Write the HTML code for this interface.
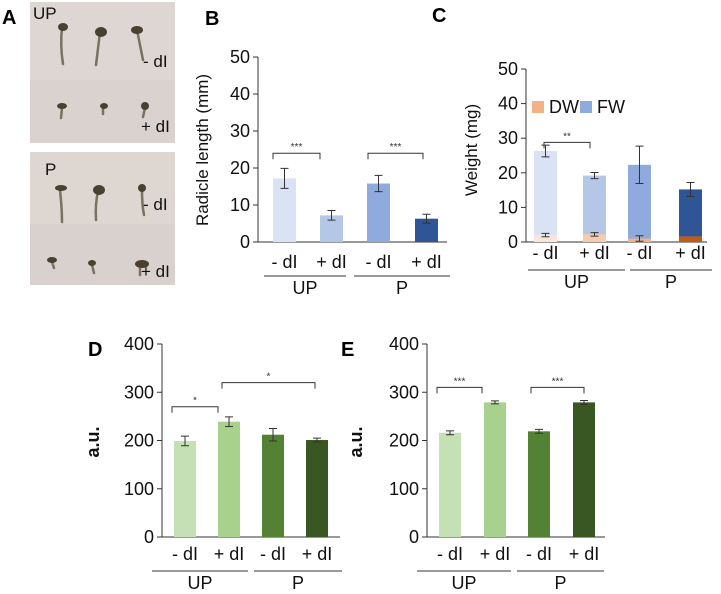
<!DOCTYPE html>
<html><head><meta charset="utf-8"><style>
body{margin:0;background:#fff;width:721px;height:594px;overflow:hidden;font-family:"Liberation Sans",sans-serif}
svg{position:absolute;left:0;top:0}
text{font-family:"Liberation Sans",sans-serif}
</style></head><body>
<svg id="s" width="721" height="594">
<g>
<rect x="30" y="2" width="145" height="78" fill="#ddd6d2"/>
<rect x="30" y="80" width="145" height="63" fill="#d9d2ce"/>
<rect x="30" y="152" width="145" height="72" fill="#ddd6d1"/>
<rect x="30" y="224" width="145" height="61" fill="#d9d1cd"/>
<g stroke="#7a715e" stroke-width="2.5" fill="none" stroke-linecap="round">
<path d="M62 28 Q60 45 63 64"/><path d="M100 32 Q98 48 96 65"/><path d="M137 30 Q140 45 143 60"/>
<path d="M62 108 L61 118"/><path d="M103 108 L103 114"/><path d="M145 108 L143 117"/>
<path d="M60 190 Q62 208 62 222"/><path d="M98 191 Q95 205 96 220"/><path d="M142 190 Q142 205 144 215"/>
<path d="M52 262 L54 268"/><path d="M92 265 L94 273"/><path d="M140 264 L140 275"/>
</g>
<g fill="#4a4030">
<ellipse cx="63" cy="27" rx="5" ry="4"/><ellipse cx="101" cy="32" rx="6" ry="5"/><ellipse cx="137" cy="30" rx="6" ry="4"/>
<ellipse cx="62" cy="106" rx="5" ry="3"/><ellipse cx="104" cy="106" rx="4" ry="3"/><ellipse cx="145" cy="106" rx="4" ry="4"/>
<ellipse cx="61" cy="188" rx="6" ry="3"/><ellipse cx="99" cy="190" rx="6" ry="5"/><ellipse cx="142" cy="188" rx="4" ry="4"/>
<ellipse cx="52" cy="260" rx="5" ry="3"/><ellipse cx="92" cy="263" rx="4" ry="3"/><ellipse cx="142" cy="264" rx="7" ry="4"/>
</g>
<g font-size="17" fill="#111">
<text x="33" y="19">UP</text><text x="143" y="67">- dI</text><text x="141" y="132">+ dI</text>
<text x="45" y="175">P</text><text x="143" y="210">- dI</text><text x="141" y="277">+ dI</text>
</g>
</g>
<g font-weight="bold" font-size="20" fill="#000">
<text x="2" y="24">A</text><text x="205" y="25">B</text><text x="432" y="22">C</text><text x="88" y="356">D</text><text x="341" y="356">E</text>
</g>
</svg>
<script>
// Panel B data
const bCats=["- dI","+ dI","- dI","+ dI"];
const bVals=[17.2,7.2,15.8,6.3];
const bErr=[2.7,1.3,2.2,1.2];
const bTicks=[0,10,20,30,40,50];
// Panel C data
const cFW=[26.3,19.2,22.3,15.2];
const cFWErr=[1.7,0.9,5.4,2.0];
const cDW=[2.0,2.2,1.0,1.6];
const cDWErr=[0.5,0.5,0.8,0];
const cTicks=[0,10,20,30,40,50];
// Panel D data
const dVals=[199,239,212,201];
const dErr=[10,10,13,4];
// Panel E data
const eVals=[216,279,219,279];
const eErr=[4,3,4,4];
const deTicks=[0,100,200,300,400];
const groups=["UP","P"];

const S=document.getElementById('s');const NS='http://www.w3.org/2000/svg';
function el(t,a,p){const e=document.createElementNS(NS,t);for(const k in a)e.setAttribute(k,a[k]);(p||S).appendChild(e);return e;}
function txt(x,y,s,a,p){const e=el('text',Object.assign({x:x,y:y},a),p);e.textContent=s;return e;}

function panel(cfg){
  const g=el('g',{});
  
  
  const ys=v=>cfg.y0-(v-0)/(cfg.max)*(cfg.y0-cfg.yTop);
  const xs=i=>cfg.bx[i];
  el('line',{x1:cfg.ax,y1:cfg.yTop,x2:cfg.ax,y2:cfg.y0,stroke:'#333','stroke-width':1},g);
  el('line',{x1:cfg.ax-4,y1:cfg.y0,x2:cfg.axEnd,y2:cfg.y0,stroke:'#333','stroke-width':1},g);
  cfg.ticks.forEach(t=>{
    const y=ys(t);
    const tl=el('line',{x1:cfg.ax-5,y1:y,x2:cfg.ax,y2:y,stroke:'#333'},g);
    
    
    const lb=txt(cfg.ax-8,y+6,String(t),{'font-size':18,'text-anchor':'end',fill:'#111'},g);
    
    
  });
  const yt=txt(0,0,cfg.ytitle,{'font-size':cfg.ytSize||17,'text-anchor':'middle',fill:'#111','font-weight':cfg.ytBold?'bold':'normal',transform:`translate(${cfg.ytx},${cfg.yty}) rotate(-90)`},g);
  
  
  cfg.series.forEach(sr=>{
    sr.vals.forEach((v,i)=>{
      const base=sr.base?sr.base[i]:0;
      const r=el('rect',{x:xs(i),y:ys(base+v),width:cfg.bw,height:ys(base)-ys(base+v),fill:sr.colors[i]},g);
      
      
    });
  });
  cfg.errs.forEach(er=>{
    er.vals.forEach((v,i)=>{
      const e=er.err[i];if(!e)return;
      const cx=xs(i)+cfg.bw/2;
      const p=el('path',{d:`M${cx} ${ys(v-e)}V${ys(v+e)}M${cx-4} ${ys(v-e)}H${cx+4}M${cx-4} ${ys(v+e)}H${cx+4}`,stroke:'#333',fill:'none'},g);
      
      
    });
  });
  bCats.forEach((c,i)=>{
    const t=txt(xs(i)+cfg.bw/2,cfg.labY,c,{'font-size':18,'text-anchor':'middle',fill:'#111'},g);
    
    
  });
  groups.forEach((gn,k)=>{
    const x1=cfg.gl[k][0],x2=cfg.gl[k][1];
    el('line',{x1:x1,y1:cfg.glY,x2:x2,y2:cfg.glY,stroke:'#333'},g);
    const t=txt((x1+x2)/2,cfg.glY+18,gn,{'font-size':18,'text-anchor':'middle',fill:'#111'},g);
    
    
  });
  (cfg.brackets||[]).forEach(b=>{
    const y=ys(b.v);
    const p=el('path',{d:`M${b.x1} ${y+6}V${y}H${b.x2}V${y+6}`,stroke:'#333',fill:'none'},g);
    
    
    txt((b.x1+b.x2)/2,y-3,b.s,{'font-size':10,'text-anchor':'middle',fill:'#333'},g);
  });
  return g;
}
panel({name:'panel-b-radicle-chart',ax:258,axEnd:447,y0:242,yTop:57,max:50,ticks:bTicks,
  ytitle:'Radicle length (mm)',ytx:208,yty:150,bw:23,bx:[273,320,367,415],
  series:[{key:'radicle',vals:bVals,colors:['#dae3f3','#b4c7e7','#8faadc','#2f5597']}],
  errs:[{vals:bVals,err:bErr}],labY:268,glY:276,gl:[[264,346],[354,450]],
  brackets:[{x1:273,x2:320,v:24,s:'***'},{x1:368,x2:423,v:24,s:'***'}]});
panel({name:'panel-c-weight-chart',ax:526,axEnd:707,y0:242,yTop:69,max:50,ticks:cTicks,
  ytitle:'Weight (mg)',ytx:477,yty:150,bw:23,bx:[534,583,628,679],
  series:[{key:'dw',vals:cDW,colors:['#fbe5d6','#f8cbad','#f4b183','#c55a11']},
          {key:'fw',vals:cFW.map((v,i)=>v-cDW[i]),base:cDW,colors:['#dae3f3','#b4c7e7','#8faadc','#2f5597']}],
  errs:[{vals:cFW,err:cFWErr},{vals:cDW,err:cDWErr}],labY:259,glY:270,gl:[[528,625],[630,712]],
  brackets:[{x1:544,x2:590,v:28.8,s:'**'}]});
panel({name:'panel-d-chart',ax:162,axEnd:340,y0:537,yTop:344,max:400,ticks:deTicks,ytitle:'a.u.',ytBold:true,ytSize:18,ytx:99,yty:442,bw:22,bx:[174,218,262,306],
  series:[{key:'d',vals:dVals,colors:['#c5e0b4','#a9d18e','#548235','#385723']}],
  errs:[{vals:dVals,err:dErr}],labY:560,glY:571,gl:[[152,248],[254,342]],
  brackets:[{x1:172,x2:218,v:270,s:'*'},{x1:222,x2:315,v:320,s:'*'}]});
panel({name:'panel-e-chart',ax:427,axEnd:605,y0:537,yTop:344,max:400,ticks:deTicks,ytitle:'a.u.',ytBold:true,ytSize:18,ytx:362,yty:442,bw:22,bx:[439,484,528,573],
  series:[{key:'e',vals:eVals,colors:['#c5e0b4','#a9d18e','#548235','#385723']}],
  errs:[{vals:eVals,err:eErr}],labY:560,glY:571,gl:[[417,511],[517,604]],
  brackets:[{x1:437,x2:482,v:310,s:'***'},{x1:531,x2:584,v:310,s:'***'}]});
// legend C
const lg=el('g',{});


el('rect',{x:532,y:101,width:12,height:12,fill:'#f4b183'},lg);
txt(549,113,'DW',{'font-size':18,fill:'#111'},lg);
el('rect',{x:580,y:101,width:12,height:12,fill:'#8faadc'},lg);
txt(597,113,'FW',{'font-size':18,fill:'#111'},lg);
</script>
</body></html>
